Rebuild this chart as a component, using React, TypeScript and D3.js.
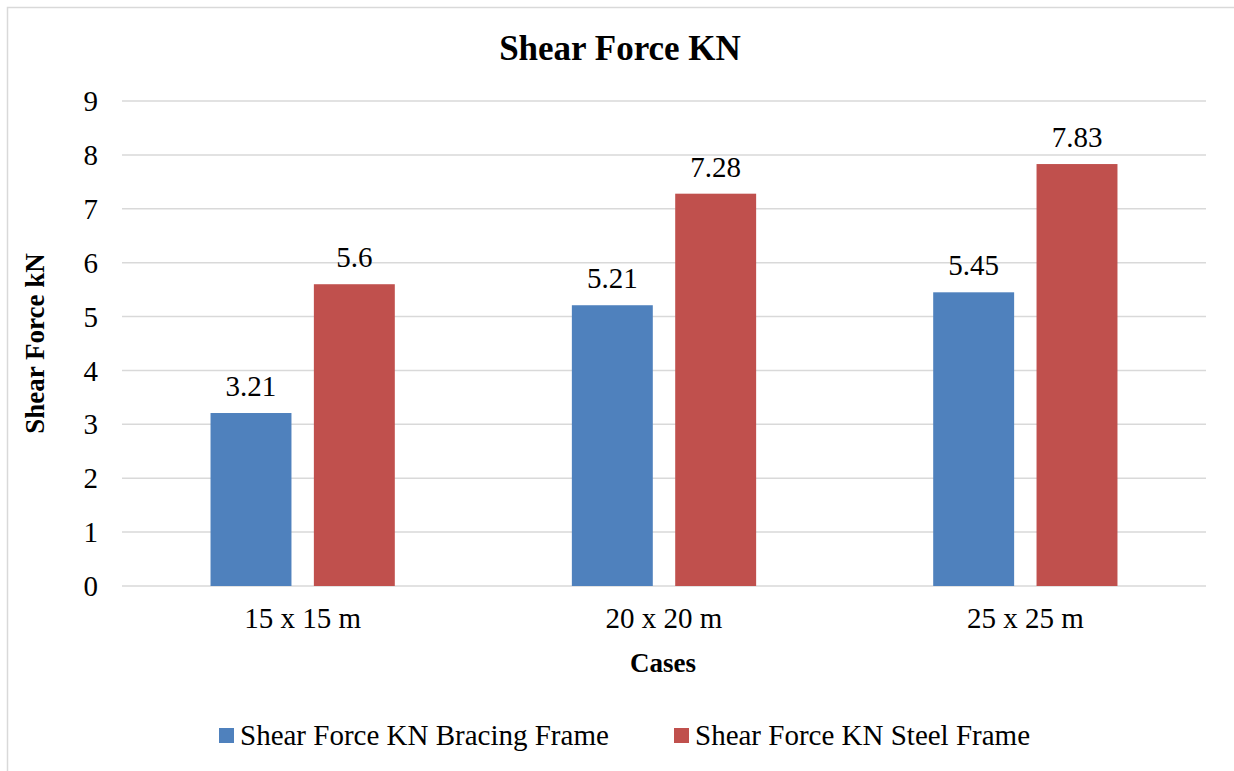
import React from "react";
import * as d3 from "d3";

const categories = ["15 x 15 m", "20 x 20 m", "25 x 25 m"];
const seriesNames = ["Shear Force KN Bracing Frame", "Shear Force KN Steel Frame"];
const bracingValues = [3.21, 5.21, 5.45];
const steelValues = [5.6, 7.28, 7.83];
const yTicks = [0, 1, 2, 3, 4, 5, 6, 7, 8, 9];
const colors = ["#4F81BD", "#C0504D"];

const W = 1234;
const H = 771;
const FONT = "Liberation Serif, serif";
const txt = { fontFamily: FONT };

export default function App() {
  const plotLeft = 122;
  const plotRight = 1206;
  const plotTop = 101;
  const plotBottom = 586;

  const x0 = d3.scaleBand<string>().domain(categories).range([plotLeft, plotRight]).paddingInner(0).paddingOuter(0);
  const y = d3.scaleLinear().domain([0, 9]).range([plotBottom, plotTop]);

  const bw = x0.bandwidth();
  const barW = bw * 0.224;
  const gap = bw * 0.062;
  const series = [bracingValues, steelValues];

  return (
    <svg width={W} height={H} style={{ position: "fixed", left: 0, top: 0, background: "#fff" }}>
      <rect x={0} y={0} width={W} height={H} fill="#fff" />
      <rect x={7.5} y={7.5} width={1240} height={800} fill="none" stroke="#D9D9D9" strokeWidth={1.5} />
      <text x={620} y={60} textAnchor="middle" fontSize={35} fontWeight="bold" fill="#000" style={txt}>Shear Force KN</text>

      {yTicks.map((t) => (
        <g key={t}>
          <line x1={plotLeft} x2={plotRight} y1={y(t)} y2={y(t)} stroke="#D9D9D9" strokeWidth={1.5} />
          <text x={98} y={y(t)} dy="0.35em" textAnchor="end" fontSize={29} fill="#000" style={txt}>{t}</text>
        </g>
      ))}

      {categories.map((c, ci) => {
        const center = (x0(c) as number) + bw / 2;
        return (
          <g key={c}>
            {series.map((vals, si) => {
              const bx = si === 0 ? center - gap / 2 - barW : center + gap / 2;
              const v = vals[ci];
              return (
                <g key={si}>
                  <rect x={bx} y={y(v)} width={barW} height={plotBottom - y(v)} fill={colors[si]} />
                  <text x={bx + barW / 2} y={y(v) - 17} textAnchor="middle" fontSize={29} fill="#000" style={txt}>{v}</text>
                </g>
              );
            })}
            <text x={center} y={628} textAnchor="middle" fontSize={29} fill="#000" style={txt}>{c}</text>
          </g>
        );
      })}

      <text x={663} y={672} textAnchor="middle" fontSize={27} fontWeight="bold" fill="#000" style={txt}>Cases</text>
      <text transform={`translate(44, ${(plotTop + plotBottom) / 2}) rotate(-90)`} textAnchor="middle" fontSize={27} fontWeight="bold" fill="#000" style={txt}>Shear Force kN</text>

      {seriesNames.map((n, i) => {
        const lx = i === 0 ? 219 : 674;
        return (
          <g key={n}>
            <rect x={lx} y={728} width={15} height={15} fill={colors[i]} />
            <text x={lx + 21} y={745} fontSize={29} fill="#000" style={txt}>{n}</text>
          </g>
        );
      })}
    </svg>
  );
}
